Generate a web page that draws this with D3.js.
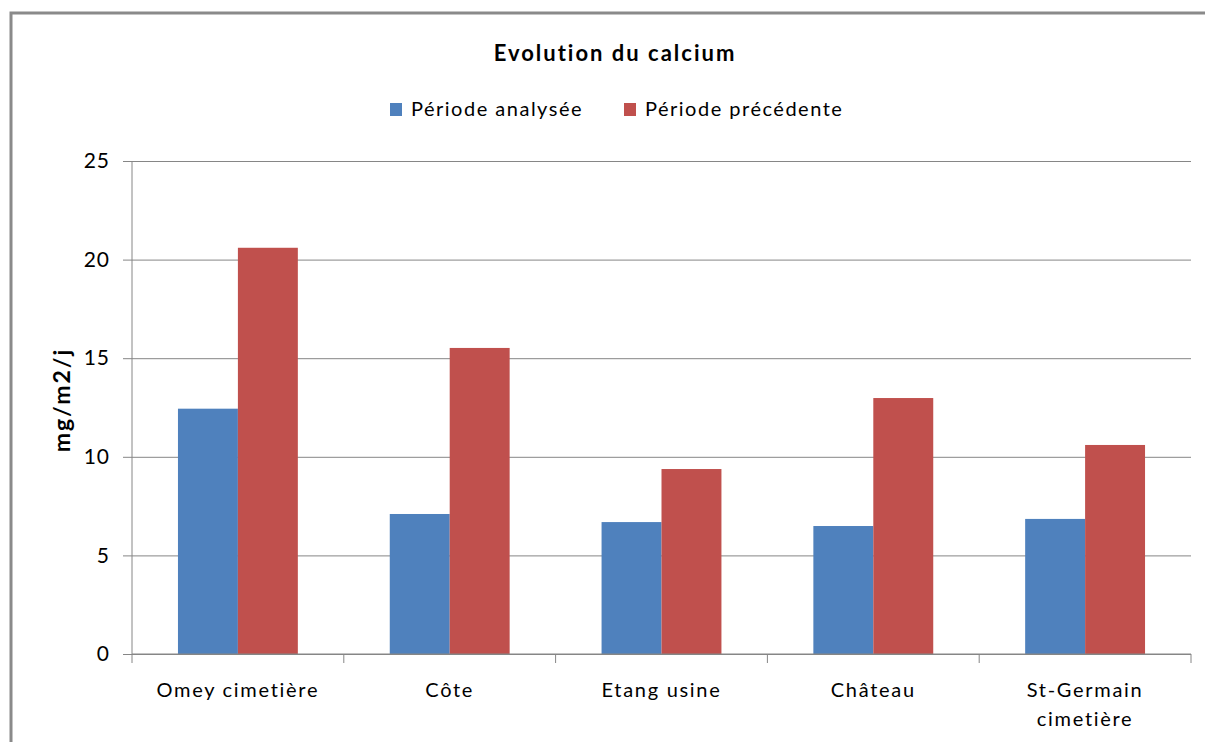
<!DOCTYPE html>
<meta charset="utf-8">
<style>
  body { margin: 0; background: #fff; }
  text { font-family: Lato, "Open Sans", sans-serif; fill: #000; }
</style>
<svg width="1205" height="742"></svg>
<script src="https://d3js.org/d3.v7.min.js"></script>
<script>

var sites = ["Omey cimetière", "Côte", "Etang usine", "Château", "St-Germain cimetière"],
    series = ["Période analysée", "Période précédente"],
    analysee = [12.44, 7.1, 6.69, 6.49, 6.85],
    precedente = [20.6, 15.52, 9.38, 12.98, 10.6],
    yTicks = [0, 5, 10, 15, 20, 25],
    colors = ["#4f81bd", "#c0504d"];

var svg = d3.select("svg"),
    width = +svg.attr("width"),
    height = +svg.attr("height");

var plotLeft = 132, plotRight = 1191, plotTop = 161, plotBottom = 654;

// chart frame (only top + left edges visible in the source)
svg.append("path")
    .attr("d", "M11,760 V13 H1210")
    .attr("fill", "none")
    .attr("stroke", "#8a8a8a")
    .attr("stroke-width", 3);

var x0 = d3.scaleBand().domain(sites).range([plotLeft, plotRight]);
var gap = x0.bandwidth() * 0.217;
var x1 = d3.scaleBand().domain(series).range([gap, x0.bandwidth() - gap]);
var y = d3.scaleLinear().domain([0, 25]).range([plotBottom, plotTop]);

// gridlines + y ticks
var yAxis = svg.append("g")
    .attr("transform", "translate(" + plotLeft + ",0)")
    .call(d3.axisLeft(y).tickValues(yTicks).tickSize(9).tickPadding(13));
yAxis.select(".domain").remove();
yAxis.selectAll(".tick line").attr("stroke", "#868686");
yAxis.selectAll(".tick").append("line")
    .attr("x1", 0).attr("x2", plotRight - plotLeft)
    .attr("stroke", "#868686");
yAxis.selectAll(".tick text")
    .style("font-size", "21px")
    .style("font-family", "Lato, sans-serif")
    .style("letter-spacing", "1px")
    .attr("fill", "#000");

// left axis line
svg.append("line")
    .attr("x1", plotLeft).attr("x2", plotLeft)
    .attr("y1", plotTop).attr("y2", plotBottom)
    .attr("stroke", "#868686");

var rows = sites.map(function(s, i) { return {site: s, values: [analysee[i], precedente[i]]}; });

svg.append("g").selectAll("g")
  .data(rows)
  .join("g")
    .attr("transform", function(d) { return "translate(" + x0(d.site) + ",0)"; })
  .selectAll("rect")
  .data(function(d) { return d.values.map(function(v, j) { return {key: series[j], v: v, c: colors[j]}; }); })
  .join("rect")
    .attr("x", function(d) { return x1(d.key); })
    .attr("width", x1.bandwidth())
    .attr("y", function(d) { return y(d.v); })
    .attr("height", function(d) { return plotBottom - y(d.v); })
    .attr("fill", function(d) { return d.c; });

// x axis
var xg = svg.append("g").attr("transform", "translate(0," + plotBottom + ")");
xg.append("line").attr("x1", plotLeft).attr("x2", plotRight).attr("stroke", "#868686");
var bounds = sites.map(function(s) { return x0(s); }).concat([plotRight]);
xg.selectAll(".xt")
  .data(bounds)
  .join("line")
    .attr("x1", function(d) { return d; }).attr("x2", function(d) { return d; })
    .attr("y1", 0).attr("y2", 9)
    .attr("stroke", "#868686");

var labelLines = [["Omey cimetière"], ["Côte"], ["Etang usine"], ["Château"], ["St-Germain", "cimetière"]];
xg.selectAll(".xl")
  .data(sites)
  .join("text")
    .attr("text-anchor", "middle")
    .attr("x", function(d) { return x0(d) + x0.bandwidth() / 2; })
    .style("font-size", "20px")
    .style("letter-spacing", "1.7px")
  .selectAll("tspan")
  .data(function(d, i) { return labelLines[i]; })
  .join("tspan")
    .attr("x", function() { return d3.select(this.parentNode).attr("x"); })
    .attr("y", function(d, i) { return 43 + i * 29; })
    .text(function(d) { return d; });

// y title
svg.append("text")
    .attr("transform", "translate(70,400) rotate(-90)")
    .attr("text-anchor", "middle")
    .style("font-size", "23px")
    .style("font-weight", "bold")
    .style("letter-spacing", "2px")
    .text("mg/m2/j");

// title
svg.append("text")
    .attr("x", 615).attr("y", 61)
    .attr("text-anchor", "middle")
    .style("font-size", "22px")
    .style("font-weight", "bold")
    .style("letter-spacing", "2px")
    .text("Evolution du calcium");

// legend
var legendX = [390, 624];
var lg = svg.append("g").selectAll("g")
  .data(series)
  .join("g")
    .attr("transform", function(d, i) { return "translate(" + legendX[i] + ",103)"; });
lg.append("rect")
    .attr("width", 12).attr("height", 13)
    .attr("fill", function(d, i) { return colors[i]; });
lg.append("text")
    .attr("x", 21).attr("y", 13)
    .style("font-size", "20px")
    .style("letter-spacing", "1.5px")
    .text(function(d) { return d; });

</script>
